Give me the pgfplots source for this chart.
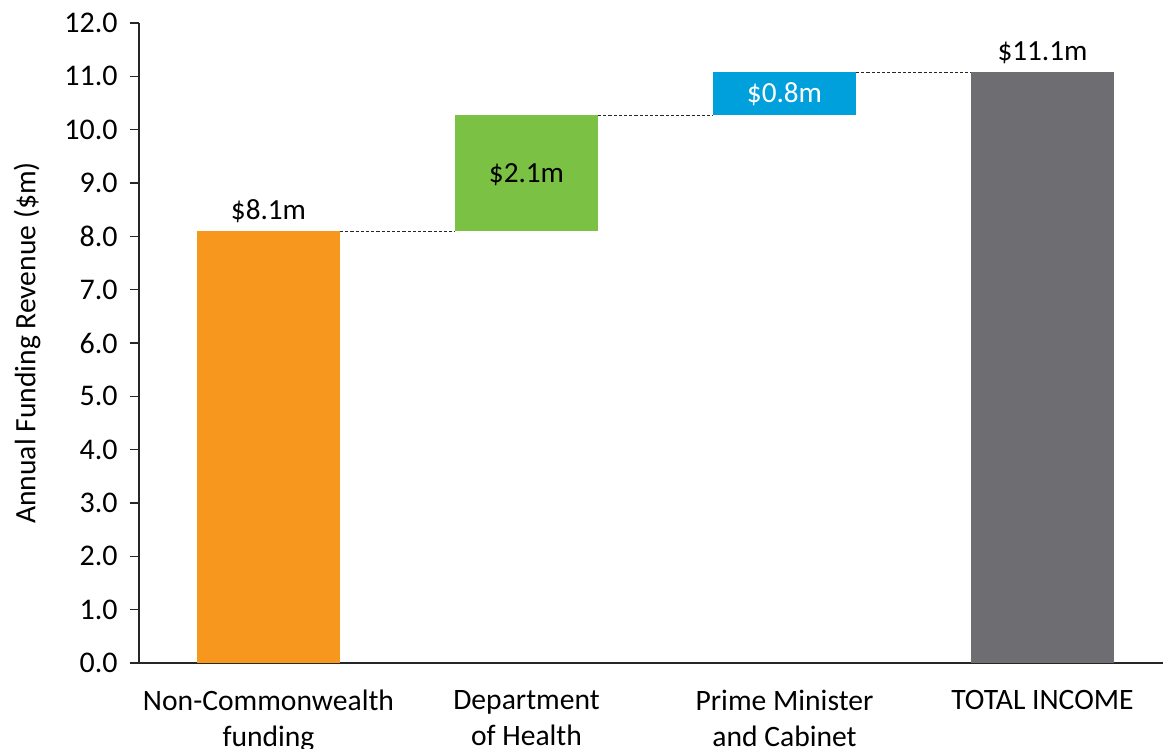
\documentclass[border=0pt]{standalone}
\usepackage{fontspec}
\setmainfont{Carlito}
\usepackage{pgfplots}
\pgfplotsset{compat=1.18}
\definecolor{cOrange}{HTML}{F7971D}
\definecolor{cGreen}{HTML}{7BC143}
\definecolor{cBlue}{HTML}{00A0DC}
\definecolor{cGray}{HTML}{6E6D72}
\pgfplotsset{
  common/.style={
    at={(0,0)}, anchor=south west,
    scale only axis,
    width=512pt, height=320pt,
    xmin=-0.502, xmax=3.467,
    ymin=0, ymax=12,
    clip=false,
  }
}
\begin{document}
\fontsize{12}{14.4}\selectfont
\begin{tikzpicture}
\useasboundingbox (-69.5pt,-43pt) rectangle (512pt,331.5pt);
\begin{axis}[
  common,
  axis lines*=left,
  axis line style={line width=0.6pt, black!85},
  ytick={0,1,...,12},
  yticklabel style={/pgf/number format/.cd, fixed, fixed zerofill, precision=1, assume math mode=true, /tikz/.cd, font=\fontsize{15}{18}\selectfont, xshift=-2pt},
  ytick style={line width=0.6pt, black!85},
  tick align=outside,
  major tick length=4.5pt,
  xtick={0,1,2,3},
  xticklabels={{Non-Commonwealth\\funding},{Department\\of Health},{Prime Minister\\and Cabinet},{TOTAL INCOME}},
  xticklabel style={align=center, font=\fontsize{14.8}{18}\selectfont, yshift=-5pt},
  x tick style={draw=none},
  ylabel={Annual Funding Revenue (\$m)},
  ylabel style={font=\fontsize{14.8}{17}\selectfont, at={([xshift=-56pt]axis description cs:0,0.5)}, anchor=center},
  ybar stacked,
  bar width=71.5pt,
]
% invisible base
\addplot[draw=none, fill=none] coordinates {(0,0) (1,8.1) (2,10.27) (3,0)};
\addplot[draw=none, fill=cOrange] coordinates {(0,8.1) (1,0) (2,0) (3,0)};
\addplot[draw=none, fill=cGreen] coordinates {(0,0) (1,2.17) (2,0) (3,0)};
\addplot[draw=none, fill=cBlue] coordinates {(0,0) (1,0) (2,0.81) (3,0)};
\addplot[draw=none, fill=cGray] coordinates {(0,0) (1,0) (2,0) (3,11.08)};
\end{axis}
\begin{axis}[
  common,
  axis lines=none,
]
% connectors
\addplot[sharp plot, no marks, black!85, line width=0.45pt, dash pattern=on 1.6pt off 1pt] coordinates {(0.277,8.1) (0.723,8.1)};
\addplot[sharp plot, no marks, black!85, line width=0.45pt, dash pattern=on 1.6pt off 1pt] coordinates {(1.277,10.27) (1.723,10.27)};
\addplot[sharp plot, no marks, black!85, line width=0.45pt, dash pattern=on 1.6pt off 1pt] coordinates {(2.277,11.08) (2.723,11.08)};
% labels
\begin{scope}[every node/.style={font=\fontsize{14.6}{17}\selectfont, anchor=base, inner sep=0pt}]
\node[yshift=5.5pt] at (axis cs:0,8.1) {\$8.1m};
\node at (axis cs:1,9.0) {\$2.1m};
\node[white] at (axis cs:2,10.5) {\$0.8m};
\node[yshift=6pt] at (axis cs:3,11.08) {\$11.1m};
\end{scope}
\end{axis}
\end{tikzpicture}
\end{document}
